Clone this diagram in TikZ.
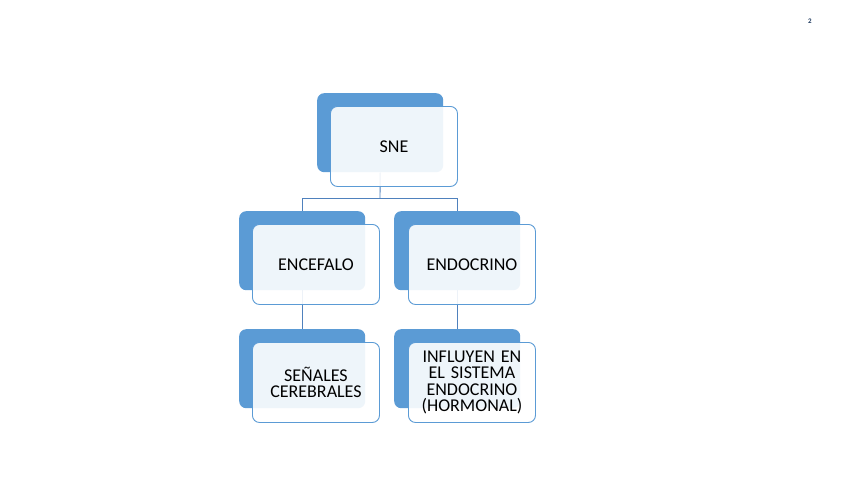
\documentclass[tikz,border=0pt]{standalone}
\usepackage{fontspec}
\setmainfont{Carlito}
\definecolor{accblue}{HTML}{5B9BD5}
\definecolor{lineblue}{HTML}{4F81BD}
\definecolor{pagenum}{HTML}{1F3A5F}
\begin{document}
\begin{tikzpicture}[x=1pt,y=-1pt,
  backbox/.style={rectangle, rounded corners=7pt, fill=accblue, minimum width=126pt, minimum height=79pt, inner sep=0pt, anchor=north west},
  frontbox/.style={rectangle, rounded corners=7pt, fill=white, fill opacity=0.9, text opacity=1, draw=accblue, line width=0.9pt, minimum width=127pt, minimum height=80pt, inner sep=2pt, anchor=north west, font=\fontsize{18}{16.5}\selectfont, align=center, text width=120pt},
  conn/.style={draw=lineblue, line width=0.9pt}]
\useasboundingbox (0,0) rectangle (848,477);
\fill[white] (0,0) rectangle (848,477);
% back boxes
\node[backbox] (bTop) at (317,93) {};
\node[backbox] (bL) at (239,211) {};
\node[backbox] (bR) at (394,211) {};
\node[backbox] (bLL) at (239,329) {};
\node[backbox] (bRR) at (394,329) {};
% connectors
\coordinate (bus) at (380,198);
\draw[conn] (bTop.south) -- (bus);
\draw[conn] (bus) -| (bL.north);
\draw[conn] (bus) -| (bR.north);
\draw[conn] (bL.south) -- (bLL.north);
\draw[conn] (bR.south) -- (bRR.north);
% front boxes
\node[frontbox] (fTop) at (330,106) {SNE};
\node[frontbox] (fL) at (252,224) {ENCEFALO};
\node[frontbox] (fR) at (408,224) {ENDOCRINO};
\node[frontbox] (fLL) at (252,342) {SEÑALES\\CEREBRALES};
\node[frontbox] (fRR) at (408,342) {INFLUYEN EN\\EL SISTEMA\\ENDOCRINO\\(HORMONAL)};
% page number
\node[font=\bfseries\fontsize{7}{8}\selectfont, text=pagenum] (pg) at (810,21) {2};
\end{tikzpicture}
\end{document}
